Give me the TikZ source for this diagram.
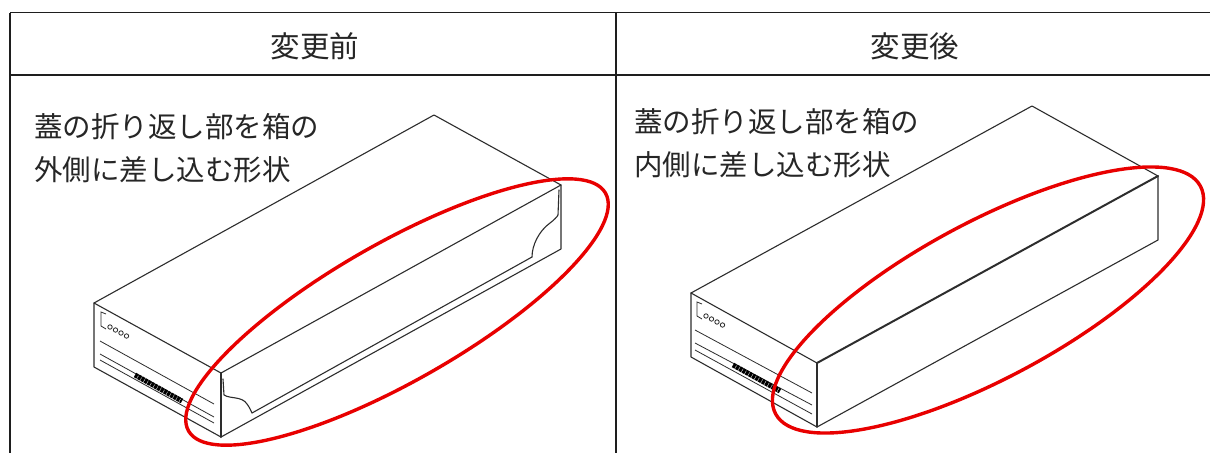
\documentclass[tikz,border=0pt]{standalone}
\usepackage{fontspec}
\newfontfamily\jp{Noto Sans CJK JP}
\usetikzlibrary{shapes.geometric}
\definecolor{ered}{RGB}{232,0,0}
\definecolor{ink}{RGB}{45,45,45}
\definecolor{rule}{RGB}{30,30,30}
\tikzset{
  tbl/.style={draw=rule, line width=1.8pt},
  boxline/.style={draw=ink, line width=1.1pt, line join=round, line cap=round},
  heavy/.style={draw=ink, line width=2pt, line cap=round},
  thin/.style={draw=ink, line width=0.8pt},
  redmark/.style={ellipse, draw=ered, line width=3.4pt, inner sep=0pt},
  head/.style={font=\jp\fontsize{29.5}{31}\selectfont, inner sep=0pt, text=black!85},
  body/.style={font=\jp\fontsize{28.5}{30}\selectfont, inner sep=0pt, anchor=base west, text=black!85},
  labelband/.style={draw=black, line width=5pt, dash pattern=on 3pt off 0.7pt},
}
\begin{document}
\begin{tikzpicture}[x=1pt,y=-1pt]
\useasboundingbox (0,0) rectangle (1210,453);
\fill[white] (0,0) rectangle (1210,453);

% table
\coordinate (tl) at (10,12.5);
\coordinate (tr) at (1210,12.5);
\coordinate (hl) at (10,75);
\coordinate (hr) at (1210,75);
\coordinate (bl) at (10,453);
\coordinate (mt) at (616,12.5);
\coordinate (mb) at (616,453);
\draw[tbl] (tl) -- (tr);
\draw[tbl] (hl) -- (hr);
\draw[tbl] (tl) -- (bl);
\draw[tbl] (mt) -- (mb);

\node[head] (h1) at (315,46) {変更前};
\node[head] (h2) at (915,46) {変更後};

\node[body] (t1a) at (34,137) {蓋の折り返し部を箱の};
\node[body] (t1b) at (34,180) {外側に差し込む形状};
\node[body] (t2a) at (634,132) {蓋の折り返し部を箱の};
\node[body] (t2b) at (634,175) {内側に差し込む形状};

% ---------- before box ----------
\begin{scope}[shift={(94,303)}]
  \coordinate (aL) at (0,0);
  \coordinate (aT) at (340,-188);
  \coordinate (aR) at (467,-118);
  \coordinate (aF) at (127,70);
  \coordinate (aLb) at (0,64);
  \coordinate (aFb) at (127,134);
  \coordinate (aRb) at (467,-54);
  \draw[boxline] (aL) -- (aT) -- (aR) -- (aF) -- cycle;
  \draw[boxline] (aL) -- (aLb) -- (aFb);
  \draw[boxline] (aR) -- (aRb) -- (aFb);
  \draw[heavy] (aF) -- (aFb);
  % flap folded outside
  \coordinate (aP1) at (158,110);
  \coordinate (aP2) at (438,-46);
  \draw[boxline] (129,76) -- (130,92) .. controls (136,96) and (148,93) .. (153,101)
        .. controls (156,105) and (157,108) .. (aP1);
  \draw[boxline] (aP1) -- (aP2);
  \draw[boxline] (aP2) .. controls (438,-58) and (445,-72) .. (456,-80)
        .. controls (460,-83) and (463,-86) .. (464,-88) -- (465,-113);
  % end face print
  \draw[thin] (6,38) -- (120,101);
  \draw[thin] (6,51) -- (120,114);
  \draw[thin] (6,57) -- (120,120);
  \draw[labelband] (41,72) -- (88,98);
  \draw[thin] (12,11) -- (7,9) -- (7,23) -- (12,26);
  \foreach \i in {0,1,2,3} \draw[thin] (16+5.5*\i,24+3*\i) circle [radius=2.2pt];
\end{scope}

% ---------- after box ----------
\begin{scope}[shift={(691,293)}]
  \coordinate (bL) at (0,0);
  \coordinate (bT) at (341,-187);
  \coordinate (bR) at (467,-117);
  \coordinate (bF) at (126,70);
  \coordinate (bLb) at (0,64);
  \coordinate (bFb) at (126,134);
  \coordinate (bRb) at (467,-53);
  \draw[boxline] (bL) -- (bT) -- (bR);
  \draw[boxline] (bF) -- (bL);
  \draw[boxline] (bL) -- (bLb) -- (bFb);
  \draw[boxline] (bR) -- (bRb) -- (bFb);
  \draw[heavy] (bF) -- (bR);
  \draw[boxline, line width=1.5pt] (bF) -- (bFb);
  % end face print
  \draw[thin] (4,37) -- (121,100);
  \draw[thin] (4,50) -- (121,112);
  \draw[thin] (4,57) -- (121,121);
  \draw[labelband] (42,72) -- (89,98);
  \draw[thin] (11,11) -- (6,9) -- (6,23) -- (11,26);
  \foreach \i in {0,1,2,3} \draw[thin] (15+5.5*\i,23+3*\i) circle [radius=2.2pt];
\end{scope}

% red marks
\node[redmark, rotate=29.7, minimum width=480pt, minimum height=138pt] (e1) at (397,312) {};
\node[redmark, rotate=28.2, minimum width=482pt, minimum height=156pt] (e2) at (988,300) {};
\end{tikzpicture}
\end{document}
